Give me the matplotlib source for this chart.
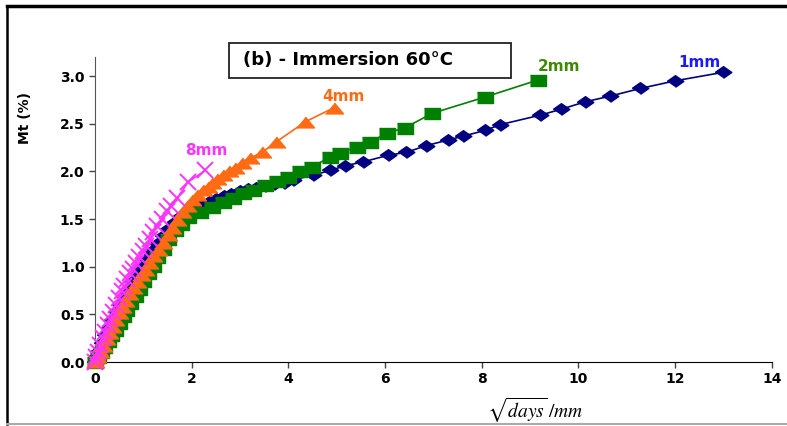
import matplotlib
matplotlib.use('Agg')
import matplotlib.pyplot as plt
from matplotlib.lines import Line2D
from matplotlib.patches import Rectangle

plt.rcParams['mathtext.fontset'] = 'stix'

# 1mm
x_1mm = [0, 0.04, 0.09, 0.15, 0.21, 0.28, 0.35, 0.43, 0.51, 0.59, 0.68, 0.77, 0.86, 0.96,
         1.06, 1.17, 1.28, 1.40, 1.52, 1.65, 1.78, 1.92, 2.06, 2.20, 2.35, 2.50, 2.66, 2.82,
         2.99, 3.16, 3.34, 3.52, 3.71, 3.90, 4.10, 4.51, 4.87, 5.18, 5.55, 6.07, 6.44, 6.85,
         7.31, 7.62, 8.07, 8.38, 9.21, 9.63, 10.14, 10.66, 11.28, 12.0, 13.0]
y_1mm = [0, 0.06, 0.12, 0.20, 0.28, 0.36, 0.44, 0.52, 0.60, 0.68, 0.76, 0.84, 0.92, 1.00,
         1.08, 1.16, 1.24, 1.32, 1.40, 1.47, 1.53, 1.58, 1.62, 1.65, 1.68, 1.71, 1.74, 1.76,
         1.79, 1.81, 1.83, 1.85, 1.87, 1.88, 1.91, 1.96, 2.01, 2.06, 2.10, 2.17, 2.20, 2.27,
         2.33, 2.37, 2.43, 2.49, 2.59, 2.65, 2.73, 2.79, 2.87, 2.95, 3.04]

# 2mm
x_2mm = [0, 0.06, 0.12, 0.19, 0.26, 0.33, 0.41, 0.49, 0.57, 0.65, 0.73, 0.82, 0.91, 1.0,
         1.09, 1.19, 1.29, 1.40, 1.52, 1.65, 1.78, 1.93, 2.17, 2.42, 2.65, 2.86, 3.06, 3.27,
         3.52, 3.77, 4.0, 4.24, 4.49, 4.87, 5.07, 5.42, 5.69, 6.04, 6.42, 6.98, 8.07, 9.17]
y_2mm = [0, 0.05, 0.10, 0.16, 0.22, 0.28, 0.34, 0.41, 0.48, 0.55, 0.62, 0.69, 0.77, 0.85,
         0.93, 1.01, 1.10, 1.19, 1.29, 1.38, 1.45, 1.52, 1.57, 1.63, 1.68, 1.72, 1.77, 1.80,
         1.86, 1.90, 1.94, 2.00, 2.05, 2.15, 2.19, 2.26, 2.31, 2.40, 2.46, 2.61, 2.78, 2.96]

# 4mm
x_4mm = [0, 0.05, 0.10, 0.16, 0.22, 0.28, 0.35, 0.42, 0.49, 0.56, 0.63, 0.71, 0.79, 0.87,
         0.95, 1.03, 1.12, 1.21, 1.30, 1.40, 1.50, 1.60, 1.70, 1.80, 1.90, 2.0, 2.1, 2.24,
         2.34, 2.42, 2.52, 2.65, 2.78, 2.90, 3.04, 3.21, 3.46, 3.75, 4.35, 4.95]
y_4mm = [0, 0.05, 0.10, 0.17, 0.24, 0.30, 0.37, 0.44, 0.51, 0.58, 0.64, 0.71, 0.78, 0.84,
         0.91, 0.97, 1.04, 1.11, 1.18, 1.25, 1.33, 1.41, 1.49, 1.57, 1.64, 1.70, 1.75, 1.80,
         1.84, 1.88, 1.92, 1.96, 2.00, 2.04, 2.09, 2.14, 2.20, 2.31, 2.52, 2.67]

# 8mm
x_8mm = [0, 0.03, 0.07, 0.11, 0.16, 0.21, 0.26, 0.31, 0.37, 0.43, 0.49, 0.55, 0.61, 0.67,
         0.73, 0.79, 0.85, 0.92, 0.99, 1.06, 1.13, 1.21, 1.29, 1.38, 1.48, 1.58, 1.70, 1.93, 2.28]
y_8mm = [0, 0.05, 0.11, 0.18, 0.25, 0.32, 0.39, 0.45, 0.52, 0.60, 0.67, 0.74, 0.80, 0.87,
         0.93, 0.98, 1.04, 1.10, 1.16, 1.22, 1.29, 1.36, 1.43, 1.50, 1.58, 1.64, 1.72, 1.89, 2.01]

x_ticks = [0, 2, 4, 6, 8, 10, 12, 14]
y_ticks = [0.0, 0.5, 1.0, 1.5, 2.0, 2.5, 3.0]

diamond = [(-1, 0), (0, 0.7), (1, 0), (0, -0.7)]
rect = [(-1, -0.72), (1, -0.72), (1, 0.72), (-1, 0.72)]
tri = [(-1, -0.6), (1, -0.6), (0, 0.6)]

fig = plt.figure(figsize=(7.87, 4.26), dpi=100)
ax = fig.add_axes([0.1207, 0.1502, 0.860, 0.716])

ax.plot(x_1mm, y_1mm, color='#000080', lw=1.2, marker=diamond, ms=12, clip_on=False, zorder=3)
ax.plot(x_2mm, y_2mm, color='#008000', lw=1.2, marker=rect, ms=11, clip_on=False, zorder=4)
ax.plot(x_4mm, y_4mm, color='#FF6A13', lw=1.2, marker=tri, ms=13, clip_on=False, zorder=5)
ax.plot(x_8mm, y_8mm, color='#FF33FF', lw=1.2, marker='x', ms=11, mew=1.4, clip_on=False, zorder=6)

ax.text(12.5, 3.14, '1mm', color='#1a1aff', fontsize=11, fontweight='bold', ha='center', va='center')
ax.text(9.6, 3.10, '2mm', color='#3d8a00', fontsize=11, fontweight='bold', ha='center', va='center')
ax.text(5.15, 2.79, '4mm', color='#FF6A13', fontsize=11, fontweight='bold', ha='center', va='center')
ax.text(2.3, 2.22, '8mm', color='#FF33FF', fontsize=11, fontweight='bold', ha='center', va='center')

ax.set_xlim(0, 14)
ax.set_ylim(0, 3.2)
ax.set_xticks(x_ticks)
ax.set_yticks(y_ticks)
ax.set_yticklabels(['%.1f' % v for v in y_ticks])
ax.tick_params(labelsize=10, length=4, width=1, color='#444444')
for lab in ax.get_xticklabels() + ax.get_yticklabels():
    lab.set_fontweight('bold')
ax.spines['top'].set_visible(False)
ax.spines['right'].set_visible(False)
ax.spines['left'].set_color('#555555')
ax.spines['bottom'].set_color('black')

ax.set_ylabel('Mt (%)', fontsize=10, fontweight='bold')
ax.yaxis.set_label_coords(-0.093, 0.80)
# x label placed by hand, it sits right of centre in the original
ax.text(0.651, -0.158, r'$\sqrt{days}\,/mm$', fontsize=14, transform=ax.transAxes,
        ha='center', va='center')

# title box
fig.patches.append(Rectangle((0.291, 0.817), 0.358, 0.082, transform=fig.transFigure,
                             fill=False, edgecolor='#222222', lw=1.3))
fig.text(0.309, 0.858, '(b) - Immersion 60°C', fontsize=13, fontweight='bold', va='center', ha='left')

# frame lines round the picture
fig.lines.append(Line2D([0.009, 1.0], [0.986, 0.986], transform=fig.transFigure, color='black', lw=2.5))
fig.lines.append(Line2D([0.009, 0.009], [0.986, 0.005], transform=fig.transFigure, color='black', lw=1.8))
fig.lines.append(Line2D([0.009, 1.0], [0.005, 0.005], transform=fig.transFigure, color='#aaaaaa', lw=1.5))

fig.savefig('out.png', dpi=100)
